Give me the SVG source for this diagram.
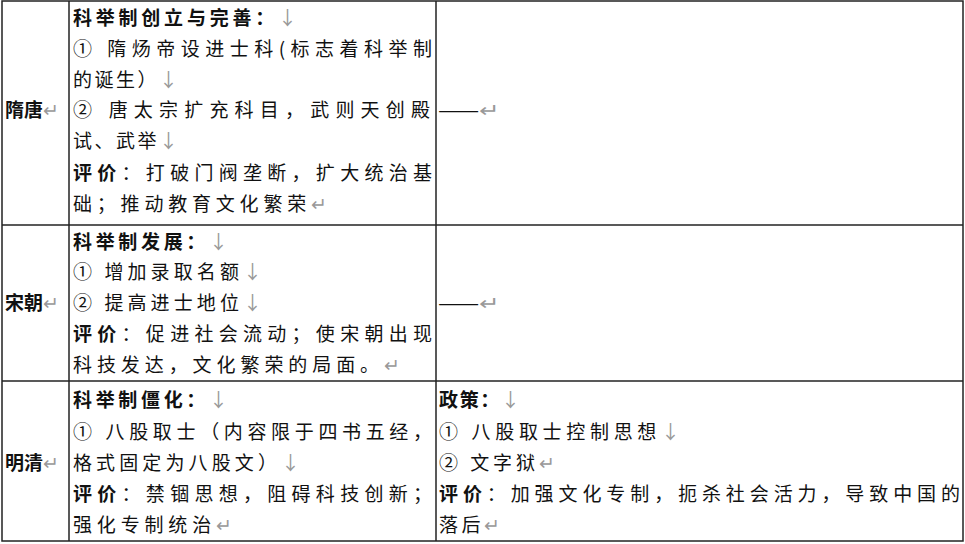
<svg xmlns="http://www.w3.org/2000/svg" width="965" height="544" viewBox="0 0 965 544">
<style>
text{font-family:"Noto Sans CJK SC","Noto Sans CJK JP",sans-serif;font-size:19px;fill:#111}
.b{font-weight:bold}
.g{fill:#999;font-weight:normal}
line{stroke:#222;stroke-width:1.5}
</style>
<rect x="0" y="0" width="965" height="544" fill="#fff"/>
<g id="grid">
<rect x="2" y="1" width="961" height="540" fill="none" stroke="#222" stroke-width="1.5"/>
<line x1="69" y1="1" x2="69" y2="541"/>
<line x1="436" y1="1" x2="436" y2="541"/>
<line x1="2" y1="225" x2="963" y2="225"/>
<line x1="2" y1="381" x2="963" y2="381"/>
</g>
<g id="row-suitang">
<text x="5" y="117" class="b">隋唐<tspan class="g">↵</tspan></text>
<text x="73" y="25" class="b" textLength="224" lengthAdjust="spacing">科举制创立与完善：<tspan class="g">↓</tspan></text>
<text x="73" y="56" textLength="359" lengthAdjust="spacing">① 隋炀帝设进士科(标志着科举制</text>
<text x="73" y="87" textLength="105" lengthAdjust="spacing">的诞生）<tspan class="g">↓</tspan></text>
<text x="73" y="117" textLength="357" lengthAdjust="spacing">② 唐太宗扩充科目，武则天创殿</text>
<text x="73" y="148" textLength="105" lengthAdjust="spacing">试、武举<tspan class="g">↓</tspan></text>
<text x="73" y="180" textLength="359" lengthAdjust="spacing"><tspan class="b">评价</tspan>：打破门阀垄断，扩大统治基</text>
<text x="73" y="211" textLength="254" lengthAdjust="spacing">础；推动教育文化繁荣<tspan class="g">↵</tspan></text>
<text x="438" y="117" textLength="62" lengthAdjust="spacingAndGlyphs">——<tspan class="g">↵</tspan></text>
</g>
<g id="row-song">
<text x="5" y="310" class="b">宋朝<tspan class="g">↵</tspan></text>
<text x="73" y="249" class="b" textLength="155" lengthAdjust="spacing">科举制发展：<tspan class="g">↓</tspan></text>
<text x="73" y="279" textLength="189" lengthAdjust="spacing">① 增加录取名额<tspan class="g">↓</tspan></text>
<text x="73" y="310" textLength="189" lengthAdjust="spacing">② 提高进士地位<tspan class="g">↓</tspan></text>
<text x="73" y="341" textLength="359" lengthAdjust="spacing"><tspan class="b">评价</tspan>：促进社会流动；使宋朝出现</text>
<text x="73" y="372" textLength="327" lengthAdjust="spacing">科技发达，文化繁荣的局面。<tspan class="g">↵</tspan></text>
<text x="438" y="310" textLength="62" lengthAdjust="spacingAndGlyphs">——<tspan class="g">↵</tspan></text>
</g>
<g id="row-mingqing">
<text x="5" y="470" class="b">明清<tspan class="g">↵</tspan></text>
<text x="73" y="407" class="b" textLength="155" lengthAdjust="spacing">科举制僵化：<tspan class="g">↓</tspan></text>
<text x="73" y="439" textLength="359" lengthAdjust="spacing">① 八股取士（内容限于四书五经，</text>
<text x="73" y="470" textLength="227" lengthAdjust="spacing">格式固定为八股文）<tspan class="g">↓</tspan></text>
<text x="73" y="501" textLength="359" lengthAdjust="spacing"><tspan class="b">评价</tspan>：禁锢思想，阻碍科技创新；</text>
<text x="73" y="532" textLength="159" lengthAdjust="spacing">强化专制统治<tspan class="g">↵</tspan></text>
<text x="439" y="407" class="b" textLength="81" lengthAdjust="spacing">政策：<tspan class="g">↓</tspan></text>
<text x="439" y="439" textLength="241" lengthAdjust="spacing">① 八股取士控制思想<tspan class="g">↓</tspan></text>
<text x="439" y="470" textLength="116" lengthAdjust="spacing">② 文字狱<tspan class="g">↵</tspan></text>
<text x="439" y="501" textLength="521" lengthAdjust="spacing"><tspan class="b">评价</tspan>：加强文化专制，扼杀社会活力，导致中国的</text>
<text x="439" y="532" textLength="61" lengthAdjust="spacing">落后<tspan class="g">↵</tspan></text>
</g>
</svg>
